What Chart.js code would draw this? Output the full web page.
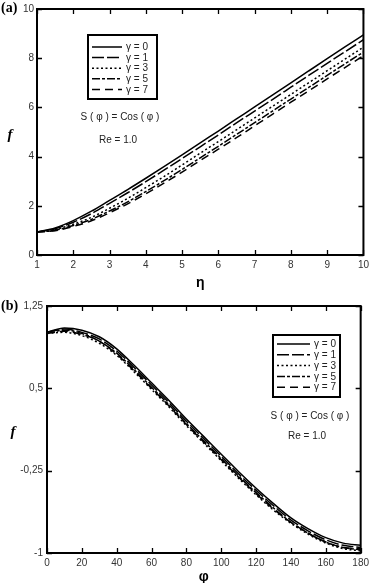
<!DOCTYPE html>
<html>
<head>
<meta charset="utf-8">
<script src="https://cdn.jsdelivr.net/npm/chart.js@4"></script>
<style>
  html, body { margin: 0; padding: 0; background: #fff; }
  body { width: 373px; height: 583px; position: relative; overflow: hidden; }
  .box { position: absolute; left: 0; width: 373px; }
</style>
</head>
<body>
<div class="box" style="top:0;height:290px"><canvas id="chartA"></canvas></div>
<div class="box" style="top:290px;height:293px"><canvas id="chartB"></canvas></div>
<script>
const gammaLabels = ["γ = 0", "γ = 1", "γ = 3", "γ = 5", "γ = 7"];
const dashes = [[], [12, 3], [2, 2.5], [8, 2, 3, 2], [8, 5]];

// (a) f against eta
const eta = [1, 1.5, 2, 2.5, 3, 3.5, 4, 4.5, 5, 5.5, 6, 6.5, 7, 7.5, 8, 8.5, 9, 9.5, 10];
const fa0 = [0.93, 1.10, 1.40, 1.78, 2.22, 2.66, 3.12, 3.59, 4.07, 4.56, 5.04, 5.53, 6.02, 6.51, 7.00, 7.49, 7.98, 8.47, 8.95];
const fa1 = [0.93, 1.07, 1.33, 1.68, 2.10, 2.53, 2.98, 3.45, 3.92, 4.40, 4.88, 5.37, 5.85, 6.33, 6.82, 7.31, 7.79, 8.27, 8.75];
const fa3 = [0.93, 1.04, 1.25, 1.53, 1.90, 2.30, 2.74, 3.19, 3.66, 4.14, 4.61, 5.09, 5.57, 6.05, 6.53, 7.01, 7.49, 7.97, 8.45];
const fa5 = [0.93, 1.01, 1.20, 1.45, 1.79, 2.16, 2.58, 3.02, 3.48, 3.95, 4.42, 4.90, 5.38, 5.86, 6.34, 6.82, 7.30, 7.78, 8.25];
const fa7 = [0.93, 0.99, 1.16, 1.39, 1.72, 2.08, 2.49, 2.92, 3.37, 3.84, 4.30, 4.77, 5.25, 5.73, 6.21, 6.68, 7.16, 7.63, 8.10];

// (b) f against phi
const phi = [0, 10, 20, 30, 40, 50, 60, 70, 80, 90, 100, 110, 120, 130, 140, 150, 160, 170, 180];
const fb0 = [1.01, 1.05, 1.03, 0.97, 0.86, 0.71, 0.55, 0.39, 0.22, 0.06, -0.10, -0.26, -0.41, -0.55, -0.68, -0.78, -0.86, -0.91, -0.93];
const fb1 = [1.01, 1.04, 1.01, 0.95, 0.84, 0.69, 0.53, 0.37, 0.20, 0.04, -0.12, -0.28, -0.43, -0.57, -0.70, -0.80, -0.88, -0.93, -0.95];
const fb3 = [1.00, 1.01, 0.98, 0.91, 0.80, 0.65, 0.49, 0.33, 0.16, 0.00, -0.16, -0.32, -0.47, -0.61, -0.73, -0.83, -0.91, -0.96, -0.98];
const fb5 = [1.00, 1.03, 1.00, 0.93, 0.82, 0.67, 0.51, 0.35, 0.18, 0.02, -0.14, -0.30, -0.45, -0.59, -0.72, -0.82, -0.90, -0.95, -0.97];
const fb7 = [1.00, 1.02, 0.99, 0.93, 0.81, 0.66, 0.50, 0.34, 0.17, 0.01, -0.15, -0.31, -0.46, -0.60, -0.72, -0.82, -0.90, -0.95, -0.96];

const sans = "'Liberation Sans', Arial, sans-serif";
const serif = "'Liberation Serif', 'Times New Roman', serif";

function makeSets(xs, series) {
  return series.map((ys, i) => ({
    label: gammaLabels[i],
    data: xs.map((x, j) => ({ x: x, y: ys[j] })),
    borderColor: "#000",
    borderWidth: 1.5,
    borderDash: dashes[i],
    pointRadius: 0,
    fill: false,
    cubicInterpolationMode: "monotone"
  }));
}

// frame, inner ticks, legend box and texts
function decor(cfg) {
  return {
    id: "decor",
    afterDraw(chart) {
      const ctx = chart.ctx;
      const a = chart.chartArea;
      const xs = chart.scales.x, ys = chart.scales.y;
      ctx.save();
      ctx.strokeStyle = "#000";
      ctx.lineWidth = 1.3;
      ctx.setLineDash([]);
      ctx.beginPath();
      xs.ticks.forEach(t => {
        const p = Math.round(xs.getPixelForValue(t.value)) + 0.5;
        ctx.moveTo(p, a.bottom); ctx.lineTo(p, a.bottom - 5);
        ctx.moveTo(p, a.top); ctx.lineTo(p, a.top + 5);
      });
      ys.ticks.forEach(t => {
        const p = Math.round(ys.getPixelForValue(t.value)) + 0.5;
        ctx.moveTo(a.left, p); ctx.lineTo(a.left + 5, p);
        ctx.moveTo(a.right, p); ctx.lineTo(a.right - 5, p);
      });
      ctx.stroke();
      ctx.lineWidth = 2;
      ctx.strokeRect(a.left, a.top, a.right - a.left, a.bottom - a.top);

      // legend
      const L = cfg.legend;
      ctx.lineWidth = 2;
      ctx.strokeRect(L.x, L.y, L.w, L.h);
      ctx.font = "10px " + sans;
      ctx.fillStyle = "#222";
      ctx.textBaseline = "middle";
      ctx.textAlign = "left";
      chart.data.datasets.forEach((ds, i) => {
        const y = L.y + L.row0 + i * L.step;
        ctx.lineWidth = 1.5;
        ctx.setLineDash(ds.borderDash);
        ctx.beginPath();
        ctx.moveTo(L.x + 4, y); ctx.lineTo(L.x + 4 + L.line, y);
        ctx.stroke();
        ctx.setLineDash([]);
        ctx.fillText(ds.label, L.x + 8 + L.line, y + 0.5);
      });

      // notes
      ctx.textAlign = "center";
      ctx.font = "10px " + sans;
      ctx.fillText("S ( φ ) = Cos ( φ )", cfg.note1[0], cfg.note1[1]);
      ctx.fillText("Re = 1.0", cfg.note2[0], cfg.note2[1]);

      // axis titles
      ctx.fillStyle = "#000";
      ctx.font = "bold 14px " + sans;
      ctx.fillText(cfg.xTitle, (a.left + a.right) / 2, cfg.xTitleY);
      ctx.font = "italic bold 15px " + serif;
      ctx.fillText("f", cfg.fPos[0], cfg.fPos[1]);
      ctx.font = "bold 14px " + serif;
      ctx.textAlign = "left";
      ctx.fillText(cfg.panel, 1, cfg.panelY);
      ctx.restore();
    }
  };
}

function makeChart(id, xs, series, sc, cfg) {
  new Chart(document.getElementById(id), {
    type: "line",
    data: { datasets: makeSets(xs, series) },
    options: {
      responsive: true,
      maintainAspectRatio: false,
      animation: false,
      layout: { padding: sc.pad },
      plugins: { legend: { display: false }, tooltip: { enabled: false } },
      scales: {
        x: {
          type: "linear",
          min: sc.xmin, max: sc.xmax,
          grid: { display: false, drawTicks: false },
          border: { display: false },
          ticks: { stepSize: sc.xstep, padding: 4, maxRotation: 0, color: "#333", font: { family: sans, size: 10 } },
          afterFit: s => { s.height = sc.xh; }
        },
        y: {
          min: sc.ymin, max: sc.ymax,
          grid: { display: false, drawTicks: false },
          border: { display: false },
          ticks: {
            stepSize: sc.ystep, padding: sc.ypad, color: "#333", font: { family: sans, size: 10 },
            callback: v => String(Math.round(v * 100) / 100).replace(".", ",")
          },
          afterFit: s => { s.width = sc.yw; }
        }
      }
    },
    plugins: [decor(cfg)]
  });
}

makeChart("chartA", eta, [fa0, fa1, fa3, fa5, fa7],
  { pad: { left: 0, right: 7, top: 8, bottom: 0 }, xmin: 1, xmax: 10, xstep: 1, ymin: 0, ymax: 10, ystep: 2, xh: 35, yw: 37, ypad: 3 },
  { legend: { x: 88, y: 35, w: 69, h: 64, row0: 12, step: 10.6, line: 30 },
    note1: [120, 117], note2: [118, 140], xTitle: "η", xTitleY: 283, fPos: [10, 135], panel: "(a)", panelY: 8 });

makeChart("chartB", phi, [fb0, fb1, fb3, fb5, fb7],
  { pad: { left: 0, right: 10, top: 16, bottom: 0 }, xmin: 0, xmax: 180, xstep: 20, ymin: -1, ymax: 1.25, ystep: 0.75, xh: 30, yw: 47, ypad: 4 },
  { legend: { x: 273, y: 45, w: 67, h: 62, row0: 9, step: 10.8, line: 33 },
    note1: [310, 126], note2: [307, 146], xTitle: "φ", xTitleY: 287, fPos: [13, 142], panel: "(b)", panelY: 16 });
</script>
</body>
</html>
